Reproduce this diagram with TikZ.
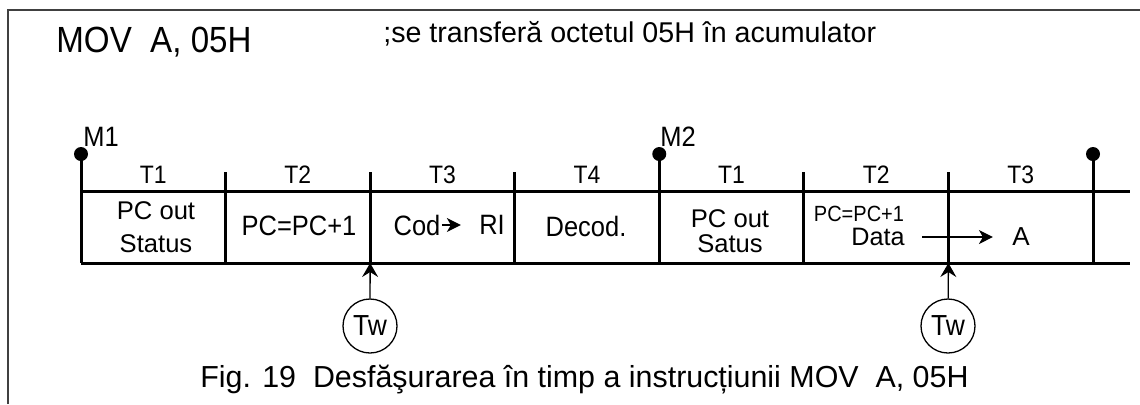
\documentclass[tikz,border=0pt]{standalone}
\usepackage{fontspec}
\setmainfont{Liberation Sans}
\newfontfamily\narrowfont[FakeStretch=0.91]{Liberation Sans}
\usetikzlibrary{arrows.meta,positioning}

\begin{document}
\begin{tikzpicture}[
  x=0.5pt, y=-0.5pt,
  grid/.style={line width=1.5pt},
  frame/.style={line width=1pt, draw=black!75},
  mdot/.style={circle, fill, inner sep=0pt, minimum size=7pt},
  mlabel/.style={font=\narrowfont\fontsize{14}{16}\selectfont, inner sep=0pt, anchor=base west},
  tlabel/.style={font=\narrowfont\fontsize{12.6}{14}\selectfont, inner sep=0pt, anchor=base},
  cell/.style={font=\fontsize{12.8}{16.5}\selectfont, inner sep=0pt, align=center},
  ncell/.style={font=\narrowfont\fontsize{14}{16}\selectfont, inner sep=0pt},
  twait/.style={circle, draw, line width=0.65pt, minimum size=27pt,
    inner sep=0pt, font=\narrowfont\fontsize{14.5}{16}\selectfont},
  arrow/.style={-{Stealth[length=7pt, width=8pt, inset=2.5pt]}, line width=0.65pt},
  flow/.style={-{Stealth[length=7pt, width=7pt, inset=2pt]}, line width=0.65pt}
]
\useasboundingbox (0,0) rectangle (1140,404);

% Frame
\draw[frame] (8,404) -- (8,10) -- (1140,10);

% Instruction
\node[font=\narrowfont\fontsize{18.2}{20}\selectfont, inner sep=0pt, anchor=base west]
  (instr) at (56,52) {MOV\ \ A, 05H};
\node[font=\fontsize{14.3}{16}\selectfont, inner sep=0pt, anchor=base west]
  (comment) at (383,42) {;se transferă octetul 05H în acumulator};

% Time axis
\foreach \i in {0,...,7} {
  \coordinate (s\i) at ({81+144.57*\i},263);
  \coordinate (t\i) at ({81+144.57*\i},191);
  \coordinate (k\i) at ({81+144.57*\i},172);
}
\coordinate (topend) at (1130,191);
\coordinate (botend) at (1130,263);
\draw[grid] (t0) -- (topend);
\draw[grid] (s0) -- (botend);
\foreach \i in {1,2,3,5,6}
  \draw[grid] (k\i) -- (s\i);

% Machine cycles
\foreach \i/\m in {0/m1,4/m2,7/m3} {
  \node[mdot] (\m) at ({81+144.57*\i},154) {};
  \draw[grid] (\m.center) -- (s\i);
}
\node[mlabel] (lm1) at (83,146) {M1};
\node[mlabel] (lm2) at (660,146) {M2};

% States
\foreach \i/\t in {0/T1,1/T2,2/T3,3/T4,4/T1,5/T2,6/T3}
  \node[tlabel] (st\i) at ({81+144.57*(\i+0.5)},183) {\t};

% Cells
\node[cell] (c1) at (156,227) {PC out\\Status};
\node[ncell] (c2) at (299,226) {PC=PC+1};
\node[ncell] (cod) at (417,225) {Cod};
\node[ncell] (ri) at (492,225) {RI};
\node[ncell] (c4) at (586,226) {Decod.};
\node[cell, font=\fontsize{12.8}{12.8}\selectfont] (c5) at (730,231) {PC out\\Satus};
\node[ncell, font=\narrowfont\fontsize{11}{12}\selectfont] (pcinc) at (859,214) {PC=PC+1};
\node[cell, font=\fontsize{12.6}{14}\selectfont, anchor=base east] (data) at (905,245) {Data};
\node[cell, font=\fontsize{13}{14}\selectfont] (acc) at (1021,237) {A};

\draw[flow, shorten <=0.5pt, shorten >=9pt] (cod) -- (ri);
\draw[flow, shorten <=8.5pt, shorten >=9.5pt] (data.east |- acc) -- (acc);

% Wait states
\node[twait] (tw1) at (370,326) {Tw};
\node[twait] (tw2) at (948,326) {Tw};
\draw[arrow] (tw1) -- (s2);
\draw[arrow] (tw2) -- (s6);

% Caption
\node[font=\fontsize{15.2}{17}\selectfont, inner sep=0pt, anchor=base west]
  (caption) at (200,387) {Fig. 19\ \ Desfăşurarea în timp a instrucțiunii MOV\ \ A, 05H};
\end{tikzpicture}
\end{document}
